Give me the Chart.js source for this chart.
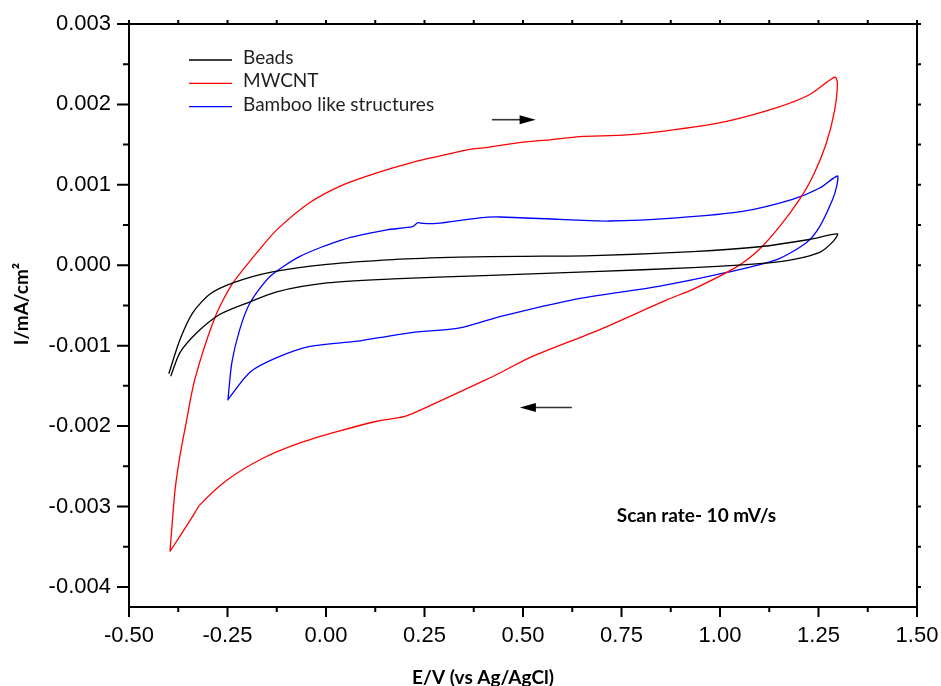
<!DOCTYPE html>
<html>
<head>
<meta charset="utf-8">
<script src="https://cdn.jsdelivr.net/npm/chart.js@4.4.1/dist/chart.umd.min.js"></script>
<style>
  html, body { margin: 0; padding: 0; background: #fff; }
  #wrap { width: 941px; height: 686px; }
</style>
</head>
<body>
<div id="wrap"><canvas id="cv" width="941" height="686"></canvas></div>
<script>
// potentials (V) and currents (mA/cm2), one closed loop per sample
const beadsE = [-0.399, -0.371, -0.338, -0.295, -0.236, -0.142, 0.002, 0.170, 0.340, 0.492, 0.677, 0.931, 1.100, 1.227, 1.298,
    1.286, 1.253, 1.184, 1.100, 0.931, 0.677, 0.400, 0.170, 0.002, -0.125, -0.201, -0.269, -0.328, -0.371, -0.394];
const beadsI = [-0.00135, -0.00093, -0.00059, -0.00036, -0.00022, -0.00009, 0.00001, 0.00007, 0.00010, 0.00011, 0.00012, 0.00017, 0.00023, 0.00032, 0.00039,
    0.00029, 0.00016, 0.00007, 0.00002, -0.00003, -0.00008, -0.00013, -0.00017, -0.00022, -0.00033, -0.00047, -0.00061, -0.00084, -0.00109, -0.00138];

const mwcntE = [-0.396, -0.391, -0.383, -0.371, -0.355, -0.333, -0.282, -0.239, -0.168, -0.125, -0.041, 0.043, 0.129, 0.220, 0.307, 0.365, 0.400, 0.500,
    0.568, 0.644, 0.763, 0.890, 1.017, 1.144, 1.227, 1.291, 1.298, 1.291, 1.270, 1.235, 1.202, 1.151, 1.100, 1.042, 0.931, 0.865,
    0.695, 0.525, 0.441, 0.408, 0.271, 0.200, 0.129, 0.028, -0.066, -0.160, -0.251, -0.320, -0.338, -0.396];
const mwcntI = [-0.00356, -0.00325, -0.00279, -0.00238, -0.00196, -0.00142, -0.00065, -0.00024, 0.00020, 0.00044, 0.00078, 0.00100, 0.00115, 0.00128, 0.00138, 0.00144, 0.00146, 0.00153,
    0.00156, 0.00160, 0.00162, 0.00169, 0.00179, 0.00196, 0.00212, 0.00234, 0.00227, 0.00193, 0.00152, 0.00110, 0.00082, 0.00048, 0.00020, -0.00002, -0.00030, -0.00043,
    -0.00080, -0.00113, -0.00134, -0.00142, -0.00173, -0.00188, -0.00194, -0.00207, -0.00221, -0.00240, -0.00267, -0.00298, -0.00312, -0.00356];

const bambooE = [-0.249, -0.239, -0.219, -0.193, -0.142, -0.066, 0.043, 0.154, 0.220, 0.233, 0.246, 0.281, 0.390, 0.441, 0.593, 0.720, 0.890,
    1.057, 1.184, 1.253, 1.298, 1.296, 1.286, 1.253, 1.219, 1.144, 1.017, 0.847, 0.626, 0.441, 0.340, 0.213, 0.086, 0.068, -0.041,
    -0.125, -0.193, -0.249];
const bambooI = [-0.00168, -0.00121, -0.00080, -0.00047, -0.00014, 0.00011, 0.00032, 0.00044, 0.00048, 0.00053, 0.00052, 0.00052, 0.00059, 0.00060, 0.00057, 0.00055, 0.00059,
    0.00067, 0.00082, 0.00096, 0.00111, 0.00098, 0.00082, 0.00048, 0.00028, 0.00007, -0.00009, -0.00026, -0.00043, -0.00064, -0.00078, -0.00084, -0.00094, -0.00095, -0.00101,
    -0.00115, -0.00133, -0.00167];

const seriesNames = ["Beads", "MWCNT", "Bamboo like structures"];
const seriesColors = ["#000000", "#ff0000", "#0000ff"];

const xMajor = [-0.5, -0.25, 0, 0.25, 0.5, 0.75, 1, 1.25, 1.5];
const xMinor = [-0.375, -0.125, 0.125, 0.375, 0.625, 0.875, 1.125, 1.375];
const yMajor = [-0.004, -0.003, -0.002, -0.001, 0, 0.001, 0.002, 0.003];
const yMinor = [-0.0035, -0.0025, -0.0015, -0.0005, 0.0005, 0.0015, 0.0025];

// scan direction arrows [fromE, toE, I] and the note
const arrowFwd = [0.421, 0.532, 0.00181];
const arrowRev = [0.624, 0.492, -0.00177];
const noteText = "Scan rate- 10 mV/s";
const notePos = [0.738, -0.00312];

function pts(es, is) {
    return es.map((e, i) => ({ x: e, y: is[i] }));
}

const datasets = [pts(beadsE, beadsI), pts(mwcntE, mwcntI), pts(bambooE, bambooI)].map((d, i) => ({
    label: seriesNames[i],
    data: d,
    showLine: true,
    borderColor: seriesColors[i],
    borderWidth: 1.3,
    pointRadius: 0,
    tension: 0.25,
    fill: false
}));

function arrow(ctx, x1, x2, y) {
    const dir = Math.sign(x2 - x1);
    ctx.strokeStyle = "#333";
    ctx.fillStyle = "#000";
    ctx.lineWidth = 1.6;
    ctx.beginPath();
    ctx.moveTo(x1, y);
    ctx.lineTo(x2 - dir * 14, y);
    ctx.stroke();
    ctx.beginPath();
    ctx.moveTo(x2, y);
    ctx.lineTo(x2 - dir * 16, y - 4.5);
    ctx.lineTo(x2 - dir * 16, y + 4.5);
    ctx.closePath();
    ctx.fill();
}

function noPad(s) {
    s.paddingLeft = 0; s.paddingRight = 0; s.paddingTop = 0; s.paddingBottom = 0;
}

const framePlugin = {
    id: "frame",
    afterDraw(chart) {
        const ctx = chart.ctx;
        const a = chart.chartArea;
        const xs = chart.scales.x, ys = chart.scales.y;
        ctx.save();
        ctx.strokeStyle = "#000";
        ctx.lineWidth = 2;
        ctx.strokeRect(a.left, a.top, a.right - a.left, a.bottom - a.top);

        ctx.beginPath();
        yMajor.forEach(v => {
            const y = ys.getPixelForValue(v);
            ctx.moveTo(a.left - 12, y); ctx.lineTo(a.left, y);
            ctx.moveTo(a.right, y); ctx.lineTo(a.right + 4, y);
        });
        yMinor.forEach(v => {
            const y = ys.getPixelForValue(v);
            ctx.moveTo(a.left - 6, y); ctx.lineTo(a.left, y);
            ctx.moveTo(a.right, y); ctx.lineTo(a.right + 4, y);
        });
        xMajor.forEach(v => {
            const x = xs.getPixelForValue(v);
            ctx.moveTo(x, a.bottom); ctx.lineTo(x, a.bottom + 10);
            ctx.moveTo(x, a.top); ctx.lineTo(x, a.top - 4);
        });
        xMinor.forEach(v => {
            const x = xs.getPixelForValue(v);
            ctx.moveTo(x, a.bottom); ctx.lineTo(x, a.bottom + 5);
            ctx.moveTo(x, a.top); ctx.lineTo(x, a.top - 4);
        });
        ctx.stroke();

        // legend
        ctx.font = "19px Lato";
        ctx.textBaseline = "middle";
        ctx.textAlign = "left";
        chart.data.datasets.forEach((ds, i) => {
            const y = 60 + i * 23.3;
            ctx.strokeStyle = ds.borderColor;
            ctx.lineWidth = 1.3;
            ctx.beginPath();
            ctx.moveTo(189, y); ctx.lineTo(232, y);
            ctx.stroke();
            ctx.fillStyle = "#231f20";
            ctx.fillText(ds.label, 243, y - 2);
        });

        arrow(ctx, xs.getPixelForValue(arrowFwd[0]), xs.getPixelForValue(arrowFwd[1]), ys.getPixelForValue(arrowFwd[2]));
        arrow(ctx, xs.getPixelForValue(arrowRev[0]), xs.getPixelForValue(arrowRev[1]), ys.getPixelForValue(arrowRev[2]));

        ctx.fillStyle = "#000";
        ctx.font = "bold 19px Lato";
        ctx.fillText(noteText, xs.getPixelForValue(notePos[0]), ys.getPixelForValue(notePos[1]));

        // axis titles
        ctx.textAlign = "center";
        ctx.font = "bold 19px Lato";
        ctx.fillText("E/V (vs Ag/AgCl)", 483, 678);
        ctx.translate(22, 304);
        ctx.rotate(-Math.PI / 2);
        ctx.fillText("I/mA/cm\u00b2", 0, 0);
        ctx.restore();
    }
};

new Chart(document.getElementById("cv"), {
    type: "scatter",
    data: { datasets: datasets },
    options: {
        responsive: false,
        animation: false,
        layout: { padding: { left: 0, top: 24, right: 24, bottom: 0 }, autoPadding: false },
        plugins: { legend: { display: false }, tooltip: { enabled: false } },
        scales: {
            x: {
                type: "linear",
                min: -0.5,
                max: 1.5,
                afterBuildTicks: s => { s.ticks = xMajor.map(v => ({ value: v })); },
                afterFit: s => { s.height = 79; noPad(s); },
                grid: { display: false, drawTicks: false },
                border: { display: false },
                ticks: {
                    autoSkip: false,
                    maxRotation: 0,
                    padding: 16,
                    color: "#000",
                    font: { family: "'Liberation Sans', Arial", size: 22 },
                    callback: v => Number(v).toFixed(2)
                }
            },
            y: {
                type: "linear",
                min: -0.00425,
                max: 0.003,
                afterBuildTicks: s => { s.ticks = yMajor.map(v => ({ value: v })); },
                afterFit: s => { s.width = 129; noPad(s); },
                grid: { display: false, drawTicks: false },
                border: { display: false },
                ticks: {
                    autoSkip: false,
                    padding: 18,
                    color: "#000",
                    font: { family: "'Liberation Sans', Arial", size: 22 },
                    callback: v => Number(v).toFixed(3)
                }
            }
        }
    },
    plugins: [framePlugin]
});
</script>
</body>
</html>
